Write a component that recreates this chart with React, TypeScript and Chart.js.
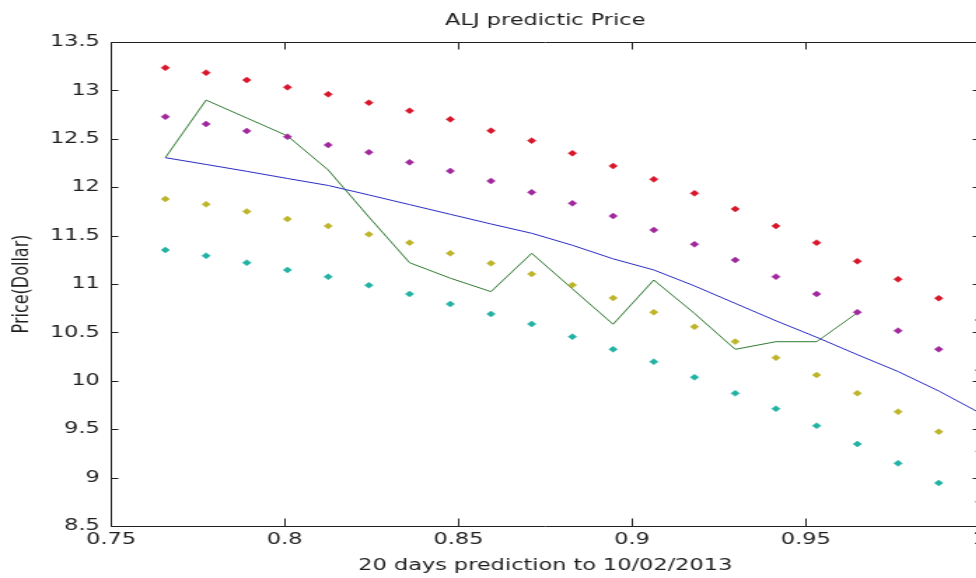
import React, { useEffect, useRef } from "react";
import { Chart, registerables } from "chart.js";

Chart.register(...registerables);

// x positions of the 21 prediction days
const xValues = [
  0.765625, 0.777344, 0.789063, 0.800781, 0.8125, 0.824219, 0.835938,
  0.847656, 0.859375, 0.871094, 0.882813, 0.894531, 0.90625, 0.917969,
  0.929688, 0.941406, 0.953125, 0.964844, 0.976563, 0.988281, 1.0,
];

// red dots (upper band 2)
const upper2 = [
  13.234, 13.183, 13.107, 13.032, 12.96, 12.873, 12.789, 12.701, 12.584,
  12.481, 12.351, 12.219, 12.081, 11.937, 11.775, 11.599, 11.427, 11.235,
  11.049, 10.853, 10.628,
];
// magenta dots (upper band 1)
const upper1 = [
  12.728, 12.653, 12.581, 12.522, 12.436, 12.361, 12.257, 12.167, 12.064,
  11.947, 11.834, 11.702, 11.558, 11.41, 11.248, 11.076, 10.897, 10.708,
  10.518, 10.326, 10.11,
];
// yellow dots (lower band 1)
const lower1 = [
  11.878, 11.823, 11.749, 11.671, 11.599, 11.513, 11.427, 11.317, 11.214,
  11.103, 10.99, 10.855, 10.709, 10.559, 10.405, 10.239, 10.06, 9.871, 9.681,
  9.474, 9.27,
];
// cyan dots (lower band 2)
const lower2 = [
  11.351, 11.292, 11.22, 11.145, 11.075, 10.987, 10.897, 10.793, 10.69,
  10.587, 10.456, 10.325, 10.197, 10.036, 9.871, 9.712, 9.536, 9.347, 9.147,
  8.945, 8.75,
];
// blue predicted trend
const trend = [
  12.305, 12.235, 12.164, 12.09, 12.018, 11.92, 11.82, 11.72, 11.62, 11.524,
  11.4, 11.26, 11.145, 10.98, 10.8, 10.62, 10.45, 10.27, 10.096, 9.895, 9.67,
];
// green actual price
const actual = [
  12.305, 12.9, 12.715, 12.53, 12.178, 11.692, 11.22, 11.06, 10.921, 11.317,
  10.95, 10.584, 11.041, 10.696, 10.325, 10.404, 10.404, 10.703,
];

const xTicks = [0.75, 0.8, 0.85, 0.9, 0.95, 1];
const xTickLabels = ["0.75", "0.8", "0.85", "0.9", "0.95", "1"];
const yTicks = [8.5, 9, 9.5, 10, 10.5, 11, 11.5, 12, 12.5, 13, 13.5];
const yTickLabels = ["8.5", "9", "9.5", "10", "10.5", "11", "11.5", "12", "12.5", "13", "13.5"];

const STRETCH = 1.4;
const CANVAS_W = 714;
const CANVAS_H = 578;
const FONT_FAMILY = "'DejaVu Sans', sans-serif";
const TEXT_COLOR = "#1e1e1e";

const pts = (ys: number[]) => ys.map((v, i) => ({ x: xValues[i], y: v }));

const labelFor = (ticks: number[], labels: string[]) => (value: any) => {
  const i = ticks.findIndex((t) => Math.abs(t - Number(value)) < 1e-9);
  return i >= 0 ? labels[i] : "";
};

const snap = (v: number) => Math.round(v) + 0.5;

const boxPlugin = {
  id: "matlabBox",
  afterDraw(chart: any) {
    const ctx = chart.ctx;
    const a = chart.chartArea;
    const x = chart.scales.x;
    const y = chart.scales.y;
    const L = snap(a.left);
    const R = snap(a.right);
    const T = snap(a.top);
    const B = snap(a.bottom);
    ctx.save();
    ctx.strokeStyle = "#202020";
    ctx.lineWidth = 1;
    ctx.setLineDash([]);
    ctx.beginPath();
    // box
    ctx.moveTo(L, T);
    ctx.lineTo(R, T);
    ctx.moveTo(L, B);
    ctx.lineTo(R, B);
    ctx.moveTo(L, T);
    ctx.lineTo(L, B);
    ctx.moveTo(R, T);
    ctx.lineTo(R, B);
    // inward ticks
    for (const v of xTicks) {
      const px = snap(x.getPixelForValue(v));
      ctx.moveTo(px, B);
      ctx.lineTo(px, B - 8);
      ctx.moveTo(px, T);
      ctx.lineTo(px, T + 7);
    }
    for (const v of yTicks) {
      const py = snap(y.getPixelForValue(v));
      ctx.moveTo(L, py);
      ctx.lineTo(L + 5, py);
      ctx.moveTo(R, py);
      ctx.lineTo(R - 5, py);
    }
    ctx.stroke();
    ctx.restore();
  },
};

const dotSet = (label: string, data: number[], color: string) => ({
  label,
  data: pts(data),
  showLine: false,
  pointStyle: "rectRot",
  pointRadius: 3,
  backgroundColor: color,
  borderColor: color,
  borderWidth: 0.5,
});

export default function App() {
  const ref = useRef<HTMLCanvasElement>(null);

  useEffect(() => {
    if (!ref.current) return;
    const font = { family: FONT_FAMILY, size: 16, weight: "normal" as const, lineHeight: 1.2 };
    const chart = new Chart(ref.current, {
      type: "scatter",
      data: {
        datasets: [
          dotSet("upper2", upper2, "#d8162a"),
          dotSet("upper1", upper1, "#a0289c"),
          dotSet("lower1", lower1, "#bdb42a"),
          dotSet("lower2", lower2, "#22b2a4"),
          {
            label: "trend",
            data: pts(trend),
            showLine: true,
            borderColor: "#2a2ac4",
            borderWidth: 1,
            pointRadius: 0,
            fill: false,
          } as any,
          {
            label: "actual",
            data: pts(actual),
            showLine: true,
            borderColor: "#2f7a30",
            borderWidth: 1,
            pointRadius: 0,
            fill: false,
          } as any,
        ],
      },
      options: {
        animation: false,
        responsive: false,
        maintainAspectRatio: false,
        devicePixelRatio: 1,
        layout: { padding: { left: 0, right: 14.7, top: 0, bottom: 0 } },
        plugins: {
          legend: { display: false },
          tooltip: { enabled: false },
          title: {
            display: true,
            text: "ALJ predictic Price",
            color: TEXT_COLOR,
            font,
            fullSize: false,
            padding: { top: 11, bottom: 11.8 },
          },
        },
        scales: {
          x: {
            type: "linear",
            min: 0.75,
            max: 1,
            grid: { display: false, drawTicks: false },
            border: { display: false },
            ticks: {
              padding: 4,
              autoSkip: false,
              maxRotation: 0,
              color: TEXT_COLOR,
              font,
              callback: labelFor(xTicks, xTickLabels),
            },
            afterBuildTicks: (s: any) => {
              s.ticks = xTicks.map((v) => ({ value: v }));
            },
            afterFit: (s: any) => {
              s.height = 52;
            },
            title: {
              display: true,
              text: "20 days prediction to 10/02/2013",
              color: TEXT_COLOR,
              font,
              padding: { top: 0, bottom: 3 },
            },
          },
          y: {
            type: "linear",
            min: 8.5,
            max: 13.5,
            grid: { display: false, drawTicks: false },
            border: { display: false },
            ticks: {
              padding: 8,
              autoSkip: false,
              color: TEXT_COLOR,
              font,
              callback: labelFor(yTicks, yTickLabels),
            },
            afterBuildTicks: (s: any) => {
              s.ticks = yTicks.map((v) => ({ value: v }));
            },
            afterFit: (s: any) => {
              s.width = 79.3;
            },
            title: {
              display: true,
              text: "Price(Dollar)",
              color: TEXT_COLOR,
              font,
              padding: { top: 6, bottom: 0 },
            },
          },
        },
      } as any,
      plugins: [boxPlugin],
    });
    return () => chart.destroy();
  }, []);

  return (
    <div
      style={{
        position: "fixed",
        left: 0,
        top: 0,
        width: 976,
        height: 578,
        overflow: "hidden",
        background: "#ffffff",
      }}
    >
      <canvas
        ref={ref}
        width={CANVAS_W}
        height={CANVAS_H}
        style={{ display: "block", width: `${CANVAS_W * STRETCH}px`, height: `${CANVAS_H}px` }}
      />
    </div>
  );
}
